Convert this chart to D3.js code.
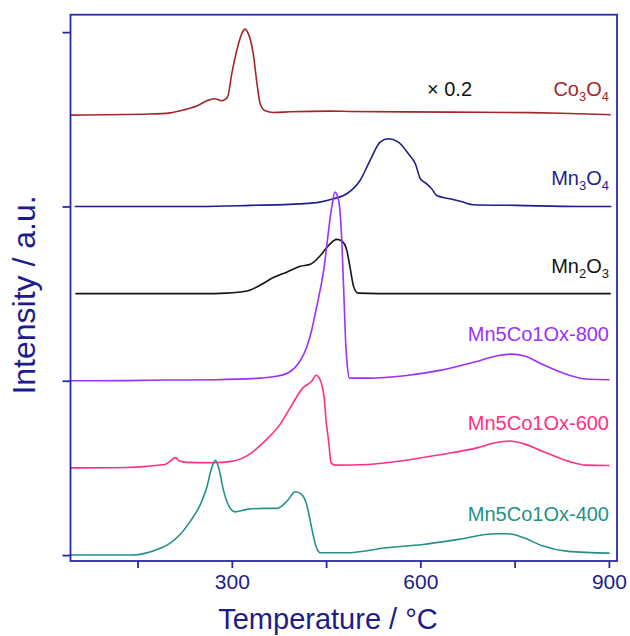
<!DOCTYPE html>
<html><head><meta charset="utf-8">
<script src="https://cdn.jsdelivr.net/npm/d3@7"></script>
<style>body{margin:0;background:#fff}svg{display:block}</style>
</head><body><svg id="c" width="630" height="636"></svg>
<script>
// ---- data ----
const seriesNames = ["Co3O4", "Mn3O4", "Mn2O3", "Mn5Co1Ox-800", "Mn5Co1Ox-600", "Mn5Co1Ox-400"];
const seriesOffsets = [25.24, 20, 15, 10, 5, 0];
const xTicks = [150, 300, 450, 600, 750, 900];
const xTickLabels = ["", "300", "", "600", "", "900"];
const yTicks = [0, 10, 20, 30];

const co3o4T = [43,170,202,223,244,263,273,284,293,300,308,316,321,326,334,340,345,353,366,393,456,488,647,775,823,903];
const co3o4V = [0,0.06,0.13,0.29,0.52,0.86,0.94,0.82,1.02,2.39,3.73,4.69,4.93,4.69,3.54,1.82,0.67,0.25,0.15,0.19,0.23,0.21,0.17,0.14,0.11,0.02];

const mn3o4T = [50,250,329,409,440,462,483,504,520,536,549,565,581,592,600,610,618,626,647,668,684,753,854,904];
const mn3o4V = [0,0,0.06,0.15,0.25,0.44,0.73,1.49,2.64,3.69,3.88,3.69,3.02,2.45,1.59,1.30,1.02,0.63,0.44,0.25,0.10,0.06,0,0];

const mn2o3T = [51,250,292,324,345,366,388,409,425,441,454,467,475,483,488,494,501,568,903];
const mn2o3V = [0,0,0.03,0.15,0.48,0.92,1.24,1.57,1.68,2.19,2.77,3.11,3.02,2.48,1.53,0.38,0.03,0,0];

const s800T = [44,84,199,274,344,373,393,407,419,427,433,446,459,464,470,475,479,481,484,487,517,575,633,690,725,745,766,794,835,864,901];
const s800V = [0,0,0.04,0.06,0.15,0.27,0.53,1.05,1.91,2.9,3.9,6.3,9.96,10.82,10.34,8.05,4.22,2.31,0.76,0.15,0.15,0.29,0.61,1.11,1.45,1.53,1.42,0.95,0.34,0.10,0.06];

const s600T = [43,113,194,202,210,217,228,271,297,324,350,377,393,413,427,434,439,447,450,454,458,465,517,575,633,690,719,742,765,794,835,864,901];
const s600V = [0,0.01,0.2,0.39,0.59,0.39,0.32,0.30,0.36,0.69,1.45,2.51,3.46,4.59,4.97,5.32,5.16,4.02,2.7,1.55,0.29,0.16,0.2,0.43,0.77,1.15,1.44,1.54,1.38,0.96,0.39,0.16,0.14];

const s400T = [43,141,188,199,218,234,250,260,268,274,279,287,297,305,324,350,372,388,401,411,419,427,433,441,483,546,604,661,719,740,765,794,835,901];
const s400V = [0,0,0.42,0.61,1.19,1.95,2.91,3.86,5.01,5.43,5.01,3.67,2.71,2.48,2.62,2.68,2.68,3.10,3.63,3.48,2.91,1.57,0.61,0.13,0.13,0.42,0.61,0.90,1.22,1.22,0.99,0.53,0.21,0.11];

const seriesT = [co3o4T, mn3o4T, mn2o3T, s800T, s600T, s400T];
const seriesV = [co3o4V, mn3o4V, mn2o3V, s800V, s600V, s400V];

// ---- styles ----
const colors = ["#a3262a", "#1f1f8c", "#141414", "#9b30ff", "#ff3083", "#24908a"];
const axisColor = "#2a2aa0";
const textColor = "#1c1c8c";
const FONT = "'Liberation Sans', Arial, sans-serif";

const svg = d3.select("#c");
const L = 70.5, R = 617, T = 14.7, B = 561;
const x = d3.scaleLinear().domain([43.3, 912.9]).range([L, R]);
const y = d3.scaleLinear().domain([-0.34, 31.0]).range([B, T]);

// curves
const line = d3.line().x(d => x(d[0])).y(d => y(d[1])).curve(d3.curveMonotoneX);
seriesNames.forEach((n, i) => {
  const pts = seriesT[i].map((t, j) => [t, seriesV[i][j] + seriesOffsets[i]]);
  svg.append("path").attr("d", line(pts)).attr("fill", "none")
    .attr("stroke", colors[i]).attr("stroke-width", 1.6).attr("stroke-linejoin", "round");
});

// frame
svg.append("rect").attr("x", L).attr("y", T).attr("width", R - L).attr("height", B - T)
  .attr("fill", "none").attr("stroke", axisColor).attr("stroke-width", 1.8);

// x axis
const xAxis = svg.append("g").attr("transform", `translate(0,${B})`)
  .call(d3.axisBottom(x).tickValues(xTicks).tickSize(7).tickPadding(6)
    .tickFormat((d, i) => xTickLabels[i]));
xAxis.select(".domain").remove();
xAxis.selectAll("line").attr("stroke", axisColor).attr("stroke-width", 1.8);
xAxis.selectAll("text").attr("fill", textColor).style("font-family", FONT).style("font-size", "21px");

// y axis
const yAxis = svg.append("g").attr("transform", `translate(${L},0)`)
  .call(d3.axisLeft(y).tickValues(yTicks).tickSize(8).tickFormat(""));
yAxis.select(".domain").remove();
yAxis.selectAll("line").attr("stroke", axisColor).attr("stroke-width", 1.8);

// axis titles
svg.append("text").attr("x", 328).attr("y", 629).attr("text-anchor", "middle")
  .attr("fill", textColor).style("font-family", FONT).style("font-size", "29px")
  .text("Temperature / °C");
svg.append("text").attr("transform", "translate(35,295) rotate(-90)").attr("text-anchor", "middle")
  .attr("fill", textColor).style("font-family", FONT).style("font-size", "32px")
  .text("Intensity / a.u.");

// series labels
const labelParts = [
  [["Co", 0], ["3", 1], ["O", 0], ["4", 1]],
  [["Mn", 0], ["3", 1], ["O", 0], ["4", 1]],
  [["Mn", 0], ["2", 1], ["O", 0], ["3", 1]],
  [["Mn5Co1Ox-800", 0]],
  [["Mn5Co1Ox-600", 0]],
  [["Mn5Co1Ox-400", 0]]
];
const labelY = [96, 185, 273, 341, 430, 521];
labelParts.forEach((parts, i) => {
  const t = svg.append("text").attr("x", 609).attr("y", labelY[i]).attr("text-anchor", "end")
    .attr("fill", colors[i]).style("font-family", FONT).style("font-size", "20px");
  let prevSub = false;
  parts.forEach(([s, sub]) => {
    const ts = t.append("tspan").text(s);
    if (sub) { ts.style("font-size", "13px").attr("dy", prevSub ? 0 : 5); }
    else if (prevSub) { ts.attr("dy", -5); }
    prevSub = !!sub;
  });
});
svg.append("text").attr("x", 427).attr("y", 96).attr("fill", "#111")
  .style("font-family", FONT).style("font-size", "20px").text("× 0.2");
</script></body></html>
